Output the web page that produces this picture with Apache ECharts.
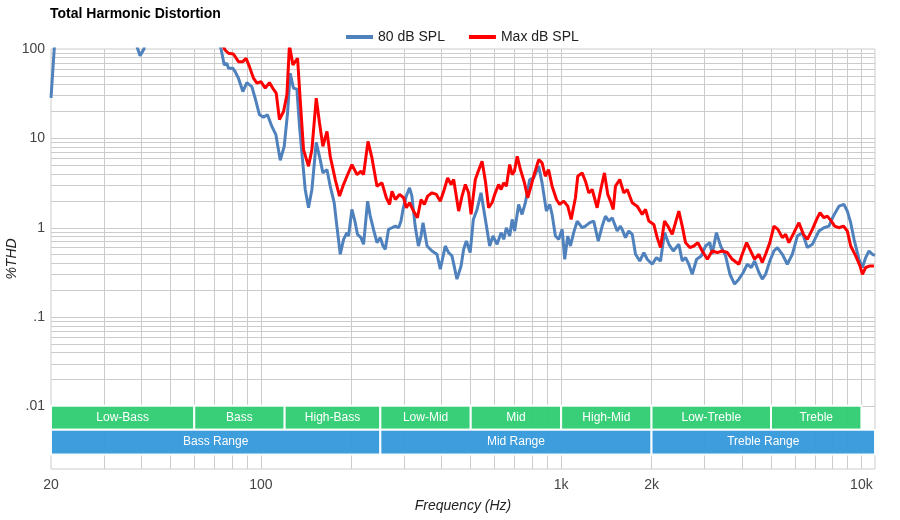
<!DOCTYPE html>
<html><head><meta charset="utf-8">
<script src="https://cdn.jsdelivr.net/npm/echarts@6/dist/echarts.min.js"></script>
<style>html,body{margin:0;padding:0;background:#fff}#c{width:900px;height:520px}</style>
</head><body><div id="c"></div>
<script>
// ---- data ----
const freq80 = [20,20.5,21,25,30,35,37,38.9,39.6,40.8,42,50,60,70,73.7,74.7,75.5,77.0,78.0,80.7,82.1,84.2,87.1,89.8,93.3,95.7,98.9,102,105.2,108.8,112.2,116.0,119.6,122.7,125.2,128.4,131.8,134.5,137.6,140.5,144.1,147.9,152.9,157.6,160.9,166.0,170.2,175.5,179.1,183.8,188.6,193.5,195.9,201,206.2,209.8,215.4,219.8,226.7,231.4,237.2,243.6,249.9,255.1,259.6,266.2,273.3,280.5,287.6,292.9,297.4,305,312.8,318.4,326.5,334.7,341.5,346.7,357.7,371.5,385.9,395.9,411.3,421.8,433.0,449.8,464.2,473.5,483.4,497.9,510,524.8,541,549,564,578,593,612,631,644,657,674,687,700,722,741,760,786,810,842,864,893,916,933,957,982,1008,1028,1052,1074,1101,1131,1175,1205,1245,1284,1329,1370,1405,1441,1479,1537,1576,1596,1638,1680,1725,1769,1828,1886,1935,2010,2077,2143,2210,2285,2363,2466,2531,2596,2662,2733,2826,2929,3026,3128,3184,3290,3398,3530,3649,3781,3907,4040,4169,4299,4409,4557,4677,4797,4955,5113,5248,5454,5666,5888,6119,6358,6607,6866,7041,7224,7504,7797,8065,8420,8750,8977,9212,9453,9817,10077,10336,10600,10880,11100];
const thd80 = [28.4,100,180,300,300,250,180,100,84,100,180,300,300,160,100,97.5,66.3,69.3,60.9,60.9,55.8,47.1,33.4,42.1,38.0,28.2,18.4,17.3,18.4,13.6,11.0,5.69,8.15,19.2,53.6,36.5,35.5,13.6,5.79,2.68,1.675,2.68,9.03,5.79,4.11,4.48,2.92,1.90,1.045,0.505,0.7425,0.882,0.808,1.604,1.140,0.844,0.7755,0.653,1.985,1.35,0.960,0.682,0.7755,0.625,0.574,0.960,1.0,1.045,1.0,1.188,1.604,2.26,2.80,2.26,1.045,0.625,0.808,1.140,0.625,0.550,0.505,0.344,0.625,0.528,0.484,0.266,0.374,0.574,0.711,0.528,1.24,1.604,2.46,2.36,1.045,0.625,0.808,0.653,0.882,0.7425,1.0,0.808,1.24,0.919,1.823,1.411,1.904,3.465,3.62,4.87,3.18,1.536,1.823,1.411,0.808,0.7425,0.960,0.444,0.808,0.625,0.882,1.188,1.0,1.045,1.140,1.188,0.711,1.045,1.35,1.188,1.296,0.919,1.045,0.960,0.7755,0.919,0.844,0.505,0.425,0.528,0.444,0.391,0.464,0.425,0.882,0.653,0.550,0.653,0.425,0.464,0.391,0.302,0.444,0.484,0.625,0.682,0.505,0.882,0.625,0.484,0.302,0.234,0.266,0.316,0.391,0.359,0.425,0.316,0.266,0.302,0.425,0.550,0.600,0.505,0.391,0.505,0.808,0.882,0.600,0.653,0.7755,0.919,1.0,1.045,1.35,1.745,1.823,1.536,1.140,0.7425,0.444,0.359,0.464,0.550,0.505,0.49];
const freqMax = [70,73.7,76.0,78.0,81.0,84.2,87.1,89.3,91.6,94.5,97.0,100,103.4,106.8,110.1,112.5,115.3,119.0,122.1,124.5,127.9,132.5,135.2,138.7,144.1,147.9,152.9,156.8,160.9,166.0,170.2,176.9,182.8,187.6,193.5,201,208.9,215.4,219.8,227.4,234.4,243.6,253.1,261.7,268.3,273.3,280.5,289.7,298.8,305,312.8,322.4,332.2,341.5,350.4,359.2,371.5,384.2,395.9,408.1,418.8,429.9,438.6,455.7,467.7,479.7,491.8,501.2,517.9,527.2,545.4,559.5,573.4,588.8,600.8,619.4,631,643.7,657,674,687,699,714,732,755,774,794,810,842,864,886,908,933,965,989,1020,1052,1080,1116,1136,1175,1205,1236,1269,1318,1359,1394,1430,1460,1491,1517,1568,1617,1660,1725,1791,1862,1910,1959,2036,2089,2143,2210,2267,2344,2404,2466,2531,2596,2683,2767,2853,2951,3069,3184,3311,3436,3577,3715,3907,4009,4147,4276,4409,4557,4677,4797,4955,5113,5272,5454,5595,5734,5961,6194,6412,6607,6866,7095,7279,7504,7700,7943,8146,8420,8710,8977,9212,9572,9893,10077,10336,10680,11010];
const thdMax = [140,120,97.5,89.6,88.0,72.2,72.2,78.8,63.5,47.1,41.5,43.2,36.5,42.1,35.5,32.1,16.2,20.0,30.7,110,66.3,78.8,27.0,7.48,4.87,7.48,28.2,14.85,8.15,11.97,6.30,3.465,2.26,2.92,3.77,5.09,3.94,4.29,3.94,9.26,6.05,2.92,3.18,2.166,1.823,2.565,2.073,2.36,2.166,1.675,1.904,1.536,1.296,2.073,1.823,2.26,2.46,2.36,1.985,2.68,3.62,3.05,3.465,1.536,2.26,3.05,2.46,1.411,3.465,4.11,5.54,3.32,1.675,1.904,2.36,3.05,2.68,3.18,2.92,5.09,3.94,4.29,6.30,4.48,3.18,2.166,2.92,3.77,5.79,5.32,3.77,4.48,2.92,2.073,1.823,1.985,1.745,1.241,2.166,3.77,4.11,3.32,2.46,2.68,1.675,2.80,4.11,2.36,1.985,1.604,2.92,3.465,2.46,2.68,1.904,1.745,1.411,1.604,1.188,1.091,0.7755,0.600,1.188,1.045,0.844,1.140,1.536,1.045,0.682,0.600,0.625,0.682,0.550,0.444,0.550,0.528,0.550,0.528,0.444,0.391,0.505,0.682,0.550,0.444,0.505,0.408,0.505,0.682,1.045,0.960,0.7755,0.844,0.682,0.882,1.140,0.844,0.7425,0.960,1.24,1.474,1.296,1.35,1.188,1.045,1.0,1.045,0.919,0.625,0.484,0.374,0.302,0.359,0.374,0.374];

const seriesNames = ['80 dB SPL', 'Max dB SPL'];
const xTickLabels = [20, 100, 1000, 2000, 10000];
const yTickLabels = [0.01, 0.1, 1, 10, 100];
const gridFreqs = [30,40,50,60,70,80,90,100,200,300,400,500,600,700,800,900,1000,2000,3000,4000,5000,6000,7000,8000,9000,10000];
const gridTHD = [0.01,0.02,0.03,0.04,0.05,0.06,0.07,0.08,0.09,0.1,0.2,0.3,0.4,0.5,0.6,0.7,0.8,0.9,1,2,3,4,5,6,7,8,9,10,20,30,40,50,60,70,80,90];
const subBands = [['Low-Bass',20,60],['Bass',60,120],['High-Bass',120,250],['Low-Mid',250,500],['Mid',500,1000],['High-Mid',1000,2000],['Low-Treble',2000,5000],['Treble',5000,10000]];
const rangeBands = [['Bass Range',20,250],['Mid Range',250,2000],['Treble Range',2000,11100]];
const xMin = 20, xMax = 11100, yMin = 0.002, yMax = 100;
const subBandTHD = [0.0102, 0.0055];
const rangeBandTHD = [0.0055, 0.0029];

// ---- chart ----
const FONT = 'Liberation Sans, Arial, sans-serif';
const chart = echarts.init(document.getElementById('c'), null, {renderer: 'canvas'});

const bandData = [];
subBands.forEach(b => bandData.push([
  {name: b[0], xAxis: b[1], yAxis: subBandTHD[0], itemStyle: {color: '#2ecc71'}},
  {xAxis: b[2], yAxis: subBandTHD[1]}
]));
rangeBands.forEach(b => bandData.push([
  {name: b[0], xAxis: b[1], yAxis: rangeBandTHD[0], itemStyle: {color: '#3498db'}},
  {xAxis: b[2], yAxis: rangeBandTHD[1]}
]));
const gridLineData = gridFreqs.map(f => ({xAxis: f})).concat(gridTHD.map(v => ({yAxis: v})));

chart.setOption({
  animation: false,
  backgroundColor: '#fff',
  title: {
    text: 'Total Harmonic Distortion', left: 45, top: 2,
    textStyle: {fontFamily: FONT, fontSize: 14, fontWeight: 'bold', color: '#000'}
  },
  legend: {
    data: seriesNames, left: 341, top: 25, icon: 'rect', itemWidth: 27, itemHeight: 4, itemGap: 24,
    textStyle: {fontFamily: FONT, fontSize: 14, color: '#222'}
  },
  grid: {left: 51, right: 25, top: 49, bottom: 51, show: true, borderColor: '#ccc', borderWidth: 1,
         containLabel: false, outerBoundsMode: 'none'},
  xAxis: {
    type: 'log', logBase: 10, min: xMin, max: xMax,
    name: 'Frequency (Hz)', nameLocation: 'middle', nameGap: 30, nameMoveOverlap: false,
    nameTextStyle: {fontFamily: FONT, fontSize: 14, fontStyle: 'italic', color: '#222'},
    axisLine: {show: false}, axisTick: {show: false}, splitLine: {show: false},
    axisLabel: {
      customValues: xTickLabels, margin: 9,
      fontFamily: FONT, fontSize: 14, color: '#444',
      formatter: v => v >= 1000 ? (Math.round(v / 1000) + 'k') : String(Math.round(v))
    }
  },
  yAxis: {
    type: 'log', logBase: 10, min: yMin, max: yMax,
    name: '%THD', nameLocation: 'middle', nameGap: 32, nameRotate: 90, nameMoveOverlap: false,
    nameTextStyle: {fontFamily: FONT, fontSize: 14, fontStyle: 'italic', color: '#222'},
    axisLine: {show: false}, axisTick: {show: false}, splitLine: {show: false},
    axisLabel: {
      customValues: yTickLabels, margin: 6,
      fontFamily: FONT, fontSize: 14, color: '#444',
      formatter: v => v < 1 ? String(v).replace(/^0/, '') : String(v)
    }
  },
  series: [
    {
      type: 'line', data: [], silent: true, z: 1,
      markLine: {
        silent: true, z: 1, symbol: 'none', animation: false,
        label: {show: false},
        lineStyle: {color: '#ccc', width: 1, type: 'solid'},
        emphasis: {disabled: true},
        data: gridLineData
      },
      markArea: {
        silent: true, z: 2, animation: false,
        itemStyle: {borderColor: '#fff', borderWidth: 2, opacity: 0.95},
        label: {show: true, position: 'inside', color: '#fff', fontFamily: FONT, fontSize: 12},
        emphasis: {disabled: true},
        data: bandData
      }
    },
    {
      name: seriesNames[0], type: 'line', z: 3, symbol: 'none', clip: true,
      color: '#4f81bd', lineStyle: {width: 3, color: '#4f81bd'},
      data: freq80.map((f, i) => [f, thd80[i]])
    },
    {
      name: seriesNames[1], type: 'line', z: 4, symbol: 'none', clip: true,
      color: '#ff0000', lineStyle: {width: 3, color: '#ff0000'},
      data: freqMax.map((f, i) => [f, thdMax[i]])
    }
  ]
});
</script>
</body></html>
